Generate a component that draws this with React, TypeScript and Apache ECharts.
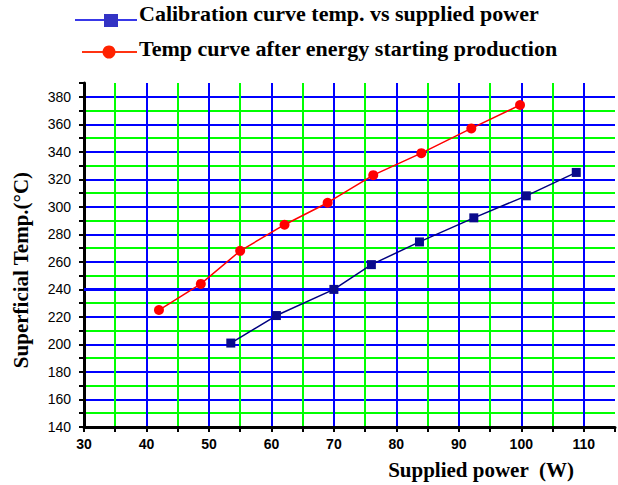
import React, { useEffect, useRef } from "react";
import * as echarts from "echarts";

const calibrationPower = [53.5, 60.8, 70.0, 76.0, 83.7, 92.4, 100.8, 108.8];
const calibrationTemp = [201, 221, 240, 258, 274.5, 292, 308, 325];
const productionPower = [42.0, 48.7, 55.0, 62.1, 69.0, 76.3, 84.0, 92.0, 99.8];
const productionTemp = [225, 244, 268, 287, 303, 323, 339, 357, 374];

const calibrationName = "Calibration curve temp. vs supplied power";
const productionName = "Temp curve after energy starting production";
const xName = "Supplied power  (W)";
const yName = "Superficial Temp.(\u00b0C)";

const pairs = (xs: number[], ys: number[]) => xs.map((x, i) => [x, ys[i]]);

export default function App() {
  const ref = useRef<HTMLDivElement>(null);
  useEffect(() => {
    if (!ref.current) return;
    const chart = echarts.init(ref.current, null, { renderer: "svg" });
    const serif = "Liberation Serif";
    const gridColors = ["#0000ff", "#00ff00"];
    chart.setOption({
      animation: false,
      backgroundColor: "#ffffff",
      grid: { left: 84, right: 0, top: 83, bottom: 58 },
      xAxis: {
        type: "value",
        min: 30,
        max: 115,
        interval: 5,
        axisLine: { show: true, onZero: false, lineStyle: { color: "#000", width: 3 } },
        axisTick: { show: true, length: 5, lineStyle: { color: "#000", width: 2 } },
        axisLabel: {
          margin: 10,
          color: "#000",
          fontFamily: "Liberation Sans",
          fontWeight: "bold",
          fontSize: 14,
          formatter: (v: number) => (v % 10 === 0 ? String(v) : ""),
        },
        splitLine: {
          show: true,
          showMaxLine: false,
          lineStyle: { color: gridColors, width: 2 },
        },
      },
      yAxis: {
        type: "value",
        min: 140,
        max: 390,
        interval: 10,
        axisLine: { show: true, onZero: false, lineStyle: { color: "#000", width: 3 } },
        axisTick: { show: true, length: 5, lineStyle: { color: "#000", width: 2 } },
        axisLabel: {
          margin: 13,
          color: "#000",
          fontFamily: "Liberation Sans",
          fontSize: 14,
          formatter: (v: number) => (v % 20 === 0 ? String(v) : ""),
        },
        splitLine: {
          show: true,
          showMaxLine: false,
          lineStyle: { color: gridColors, width: 2 },
        },
      },
      graphic: [
        { type: "line", shape: { x1: 75, y1: 20, x2: 137, y2: 20 }, style: { stroke: "#3838e8", lineWidth: 2 } },
        { type: "rect", shape: { x: 104, y: 14, width: 14, height: 13 }, style: { fill: "#3333c4" } },
        {
          type: "text",
          x: 139,
          y: 13,
          style: { text: calibrationName, font: `bold 22px "${serif}"`, fill: "#000", verticalAlign: "middle" },
        },
        { type: "line", shape: { x1: 82, y1: 52, x2: 137, y2: 52 }, style: { stroke: "#ff3311", lineWidth: 2 } },
        { type: "circle", shape: { cx: 109, cy: 52, r: 6.5 }, style: { fill: "#ff2200" } },
        {
          type: "text",
          x: 139,
          y: 48,
          style: { text: productionName, font: `bold 22px "${serif}"`, fill: "#000", verticalAlign: "middle" },
        },
        {
          type: "text",
          x: 481,
          y: 470,
          style: { text: xName, font: `bold 21px "${serif}"`, fill: "#000", align: "center", verticalAlign: "middle" },
        },
        {
          type: "text",
          x: 21,
          y: 270,
          rotation: Math.PI / 2,
          style: { text: yName, font: `bold 21px "${serif}"`, fill: "#000", align: "center", verticalAlign: "middle" },
        },
      ],
      series: [
        {
          name: calibrationName,
          type: "line",
          data: pairs(calibrationPower, calibrationTemp),
          symbol: "rect",
          symbolSize: 9,
          lineStyle: { color: "#000080", width: 1.5 },
          itemStyle: { color: "#0a0a8c" },
          markLine: {
            silent: true,
            symbol: "none",
            label: { show: false },
            lineStyle: { color: "#0000ff", width: 3, type: "solid" },
            data: [{ yAxis: 240 }],
            z: 1,
          },
        },
        {
          name: productionName,
          type: "line",
          data: pairs(productionPower, productionTemp),
          symbol: "circle",
          symbolSize: 10,
          lineStyle: { color: "#ff0000", width: 1.5 },
          itemStyle: { color: "#ff0000" },
        },
      ],
    });
    return () => chart.dispose();
  }, []);
  return (
    <div
      ref={ref}
      style={{ position: "fixed", left: 0, top: 0, width: 618, height: 485 }}
    />
  );
}
